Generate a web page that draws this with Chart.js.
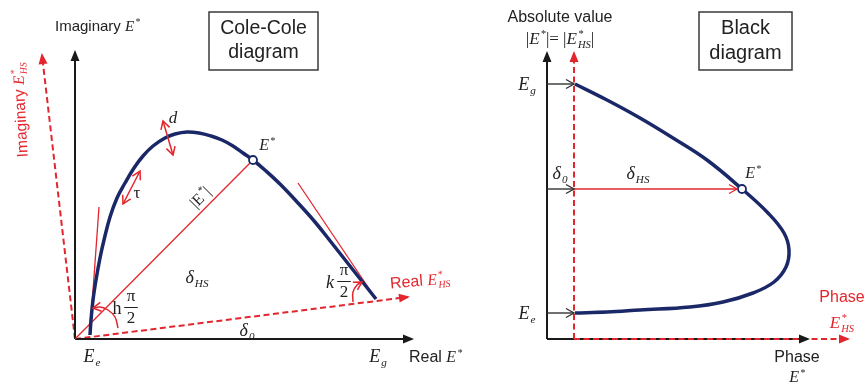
<!DOCTYPE html>
<html>
<head>
<meta charset="utf-8">
<script src="https://cdn.jsdelivr.net/npm/chart.js@4.4.0/dist/chart.umd.min.js"></script>
<style>
  html, body { margin: 0; padding: 0; background: #fff; width: 866px; height: 383px; overflow: hidden; }
  canvas { position: absolute; left: 0; top: 0; }
</style>
</head>
<body>
<canvas id="cole" width="866" height="383"></canvas>
<canvas id="black" width="866" height="383"></canvas>
<script>
// ---- Cole-Cole diagram (x = real part, y = imaginary part, arbitrary units, origin at the axes) ----
const coleCurve = [
  {x:15,y:4},{x:16,y:19},{x:18,y:39},{x:21,y:59},{x:25,y:81},{x:29,y:99},{x:35,y:122},
  {x:42,y:141},{x:50,y:156},{x:59,y:171},{x:68,y:183},{x:78,y:193},{x:90,y:201},{x:100,y:205},
  {x:112,y:207},{x:124,y:206},{x:136,y:203},{x:147,y:199},{x:158,y:193},{x:168,y:186},
  {x:178,y:179},{x:191,y:168},{x:206,y:154},{x:223,y:136},{x:240,y:117},{x:256,y:97},
  {x:271,y:78},{x:286,y:59},{x:301,y:40}
];
const coleEStar = [{x:178,y:179}];
const coleRealAxis = [{x:0,y:0},{x:337,y:0}];
const coleImagAxis = [{x:0,y:0},{x:0,y:287}];
const coleRealHS = [{x:0,y:0},{x:333,y:42}];
const coleImagHS = [{x:0,y:0},{x:-33,y:284}];
const coleModulus = [{x:0,y:0},{x:178,y:179}];
const coleTangentLow = [{x:15,y:6},{x:24,y:132}];
const coleTangentHigh = [{x:223,y:156},{x:301,y:40}];
const coleArcH = [{x:43,y:11},{x:40,y:22},{x:33,y:29},{x:25,y:32},{x:18,y:31}];
const coleArcK = [{x:278,y:37},{x:278,y:47},{x:282,y:54},{x:287,y:57}];
const coleArrowD = [{x:88,y:218},{x:98,y:184}];
const coleArrowTau = [{x:65,y:168},{x:48,y:135}];

// ---- Black diagram (x = phase, y = absolute value) ----
const blackCurve = [
  {x:28,y:255},{x:60,y:239},{x:93,y:221},{x:126,y:201},{x:160,y:179},{x:195,y:150},
  {x:221,y:126},{x:237,y:106},{x:242,y:89},{x:239,y:72},{x:227,y:57},{x:206,y:46},
  {x:176,y:37},{x:143,y:32},{x:93,y:29},{x:60,y:27},{x:28,y:26}
];
const blackEStar = [{x:195,y:150}];
const blackAbsAxis = [{x:0,y:0},{x:0,y:286}];
const blackPhaseAxis = [{x:0,y:0},{x:261,y:0}];
const blackAbsHS = [{x:27,y:0},{x:27,y:286}];
const blackPhaseHS = [{x:27,y:0},{x:301,y:0}];
const blackShiftEg = [{x:0,y:255},{x:27,y:255}];
const blackShiftD0 = [{x:0,y:150},{x:27,y:150}];
const blackShiftEe = [{x:0,y:26},{x:27,y:26}];
const blackDeltaHS = [{x:27,y:150},{x:190,y:150}];

const RED = '#e3262d';
const NAVY = '#1b2868';
const INK = '#1a1a1a';
const TEXT = '#222';

// text annotations
const coleNotes = [
  {x:-20, y:313, segs:[['Imaginary ','n'],['E','i'],['*','sup']], size:15, color:TEXT, align:'left'},
  {x:-55, y:229, segs:[['Imaginary ','n'],['E','i'],['*','HS','ss']], size:15.5, color:RED, rot:-93},
  {x:315, y:56, segs:[['Real ','n'],['E','i'],['*','HS','ss']], size:16, color:RED, align:'left', rot:-5},
  {x:334, y:-18, segs:[['Real ','n'],['E','i'],['*','sup']], size:16, color:TEXT, align:'left'},
  {x:17, y:-17, segs:[['E','i'],['e','sub']], size:18, color:TEXT},
  {x:303, y:-17, segs:[['E','i'],['g','sub']], size:18, color:TEXT},
  {x:122, y:62, segs:[['δ','i'],['HS','sub']], size:18, color:TEXT},
  {x:172, y:9, segs:[['δ','i'],['0','sub']], size:18, color:TEXT},
  {x:192, y:194, segs:[['E','i'],['*','sup']], size:16, color:TEXT},
  {x:98, y:222, segs:[['d','i']], size:17, color:TEXT},
  {x:62, y:147, segs:[['τ','r']], size:17, color:TEXT},
  {x:125, y:142, segs:[['|','r'],['E','r'],['*','sup'],['|','r']], size:16, color:TEXT, rot:-45},
  {x:42, y:31, segs:[['h','r']], size:18, color:TEXT},
  {x:56, y:32, frac:['π','2'], size:17, color:TEXT},
  {x:255, y:57, segs:[['k','i']], size:18, color:TEXT},
  {x:269, y:58, frac:['π','2'], size:17, color:TEXT},
  {box:[134,327,243,269], lines:['Cole-Cole','diagram'], size:19.5, color:TEXT}
];
const blackNotes = [
  {x:13, y:322, segs:[['Absolute value','n']], size:16, color:TEXT},
  {x:13, y:301, segs:[['|','r'],['E','i'],['*','sup'],['|= |','r'],['E','i'],['*','HS','ss'],['|','r']], size:17, color:TEXT},
  {x:-20, y:255, segs:[['E','i'],['g','sub']], size:18, color:TEXT},
  {x:-20, y:26, segs:[['E','i'],['e','sub']], size:18, color:TEXT},
  {x:13, y:166, segs:[['δ','i'],['0','sub']], size:18, color:TEXT},
  {x:91, y:166, segs:[['δ','i'],['HS','sub']], size:18, color:TEXT},
  {x:206, y:166, segs:[['E','i'],['*','sup']], size:16, color:TEXT},
  {x:295, y:42, segs:[['Phase','n']], size:16, color:RED},
  {x:295, y:17, segs:[['E','i'],['*','HS','ss']], size:17, color:RED},
  {x:250, y:-18, segs:[['Phase','n']], size:16, color:TEXT},
  {x:250, y:-38, segs:[['E','i'],['*','sup']], size:16, color:TEXT},
  {box:[152,327,245,269], lines:['Black','diagram'], size:20, color:TEXT}
];

function fontFor(kind, size) {
  if (kind === 'n') return size + 'px "Liberation Sans", Arial, sans-serif';
  if (kind === 'r') return size + 'px "Liberation Serif", serif';
  return 'italic ' + size + 'px "Liberation Serif", serif';
}

function drawRich(ctx, segs, size, color, align) {
  const small = size * 0.62;
  const widths = segs.map(s => {
    if (s[1] === 'sup' || s[1] === 'sub') { ctx.font = fontFor('i', small); return ctx.measureText(s[0]).width + 1; }
    if (s[2] === 'ss') {
      ctx.font = fontFor('i', small);
      return Math.max(ctx.measureText(s[0]).width, ctx.measureText(s[1]).width) + 1;
    }
    ctx.font = fontFor(s[1], size);
    return ctx.measureText(s[0]).width;
  });
  const total = widths.reduce((a, b) => a + b, 0);
  let x = align === 'left' ? 0 : -total / 2;
  const base = size * 0.34;
  ctx.fillStyle = color;
  ctx.textBaseline = 'alphabetic';
  ctx.textAlign = 'left';
  segs.forEach((s, i) => {
    if (s[1] === 'sup') { ctx.font = fontFor('i', small); ctx.fillText(s[0], x + 1, base - size * 0.42); }
    else if (s[1] === 'sub') { ctx.font = fontFor('i', small); ctx.fillText(s[0], x + 1, base + size * 0.22); }
    else if (s[2] === 'ss') {
      ctx.font = fontFor('i', small);
      ctx.fillText(s[0], x + 1, base - size * 0.42);
      ctx.fillText(s[1], x + 1, base + size * 0.22);
    } else { ctx.font = fontFor(s[1], size); ctx.fillText(s[0], x, base); }
    x += widths[i];
  });
}

const notesPlugin = {
  id: 'notes',
  afterDraw(chart, args, opts) {
    const ctx = chart.ctx, sx = chart.scales.x, sy = chart.scales.y;
    (opts.items || []).forEach(n => {
      ctx.save();
      if (n.box) {
        const x1 = sx.getPixelForValue(n.box[0]), y1 = sy.getPixelForValue(n.box[1]);
        const x2 = sx.getPixelForValue(n.box[2]), y2 = sy.getPixelForValue(n.box[3]);
        ctx.strokeStyle = '#3a3a3a'; ctx.lineWidth = 1.5;
        ctx.strokeRect(x1, y1, x2 - x1, y2 - y1);
        ctx.fillStyle = n.color; ctx.font = fontFor('n', n.size);
        ctx.textAlign = 'center'; ctx.textBaseline = 'middle';
        const cx = (x1 + x2) / 2, cy = (y1 + y2) / 2;
        ctx.fillText(n.lines[0], cx, cy - n.size * 0.62);
        ctx.fillText(n.lines[1], cx, cy + n.size * 0.62);
      } else if (n.frac) {
        const cx = sx.getPixelForValue(n.x), cy = sy.getPixelForValue(n.y);
        ctx.fillStyle = n.color; ctx.font = fontFor('r', n.size);
        ctx.textAlign = 'center'; ctx.textBaseline = 'middle';
        ctx.fillText(n.frac[0], cx, cy - n.size * 0.62);
        ctx.fillText(n.frac[1], cx, cy + n.size * 0.68);
        ctx.strokeStyle = n.color; ctx.lineWidth = 1;
        ctx.beginPath(); ctx.moveTo(cx - n.size * 0.4, cy + 0.5); ctx.lineTo(cx + n.size * 0.4, cy + 0.5); ctx.stroke();
      } else {
        ctx.translate(sx.getPixelForValue(n.x), sy.getPixelForValue(n.y));
        if (n.rot) ctx.rotate(n.rot * Math.PI / 180);
        drawRich(ctx, n.segs, n.size, n.color, n.align);
      }
      ctx.restore();
    });
  }
};

function head(ctx, x, y, ang, style, color, lw) {
  ctx.save();
  ctx.translate(x, y); ctx.rotate(ang);
  ctx.setLineDash([]);
  ctx.beginPath();
  if (style === 'fill') {
    ctx.moveTo(2, 0); ctx.lineTo(-9, -4.5); ctx.lineTo(-9, 4.5); ctx.closePath();
    ctx.fillStyle = color; ctx.fill();
  } else {
    ctx.moveTo(-8, -4.5); ctx.lineTo(0, 0); ctx.lineTo(-8, 4.5);
    ctx.strokeStyle = color; ctx.lineWidth = lw; ctx.lineJoin = 'miter'; ctx.stroke();
  }
  ctx.restore();
}

const arrowPlugin = {
  id: 'arrows',
  afterDatasetsDraw(chart) {
    const ctx = chart.ctx;
    chart.data.datasets.forEach((ds, i) => {
      if (!ds.arrow) return;
      const pts = chart.getDatasetMeta(i).data, n = pts.length;
      if (ds.arrow.end) {
        const p = pts[n - 1], q = pts[n - 2];
        head(ctx, p.x, p.y, Math.atan2(p.y - q.y, p.x - q.x), ds.arrow.end, ds.borderColor, ds.borderWidth);
      }
      if (ds.arrow.start) {
        const p = pts[0], q = pts[1];
        head(ctx, p.x, p.y, Math.atan2(p.y - q.y, p.x - q.x), ds.arrow.start, ds.borderColor, ds.borderWidth);
      }
    });
  }
};

function line(data, color, width, extra) {
  return Object.assign({ data, borderColor: color, borderWidth: width, showLine: true,
    pointRadius: 0, fill: false, clip: false, tension: 0 }, extra || {});
}

function makeChart(id, xmin, xmax, datasets, notes) {
  datasets.forEach((d, i) => { d.order = -i; });
  return new Chart(document.getElementById(id), {
    type: 'scatter',
    data: { datasets },
    options: {
      responsive: false,
      animation: false,
      layout: { padding: 0, autoPadding: false },
      events: [],
      plugins: { legend: { display: false }, tooltip: { enabled: false }, notes: { items: notes } },
      scales: {
        x: { type: 'linear', min: xmin, max: xmax, display: false },
        y: { type: 'linear', min: -44, max: 339, display: false }
      }
    },
    plugins: [arrowPlugin, notesPlugin]
  });
}

const dash = { borderDash: [6, 3.5] };
const marker = (data) => ({ data, showLine: false, pointRadius: 4, pointBorderWidth: 1.8,
  pointBackgroundColor: '#fff', pointBorderColor: NAVY, clip: false });

makeChart('cole', -75, 791, [
  line(coleImagHS, RED, 2, Object.assign({ arrow: { end: 'fill' } }, dash)),
  line(coleRealHS, RED, 2, Object.assign({ arrow: { end: 'fill' } }, dash)),
  line(coleRealAxis, INK, 2, { arrow: { end: 'fill' } }),
  line(coleImagAxis, INK, 2, { arrow: { end: 'fill' } }),
  line(coleModulus, RED, 1.3),
  line(coleTangentLow, RED, 1.3),
  line(coleTangentHigh, RED, 1.3),
  line(coleCurve, NAVY, 3.5, { tension: 0.4 }),
  line(coleArcH, RED, 1.5, { tension: 0.4, arrow: { end: 'open' } }),
  line(coleArcK, RED, 1.5, { tension: 0.4, arrow: { end: 'open' } }),
  line(coleArrowD, RED, 1.5, { arrow: { start: 'open', end: 'open' } }),
  line(coleArrowTau, RED, 1.5, { arrow: { start: 'open', end: 'open' } }),
  marker(coleEStar)
], coleNotes);

makeChart('black', -547, 319, [
  line(blackAbsAxis, INK, 2, { arrow: { end: 'fill' } }),
  line(blackPhaseAxis, INK, 2, { arrow: { end: 'fill' } }),
  line(blackAbsHS, RED, 2, Object.assign({ arrow: { end: 'fill' } }, dash)),
  line(blackPhaseHS, RED, 2, Object.assign({ arrow: { end: 'fill' } }, dash)),
  line(blackShiftEg, '#333', 1.4, { arrow: { end: 'open' } }),
  line(blackShiftD0, '#333', 1.4, { arrow: { end: 'open' } }),
  line(blackShiftEe, '#333', 1.4, { arrow: { end: 'open' } }),
  line(blackDeltaHS, RED, 1.3, { arrow: { end: 'open' } }),
  line(blackCurve, NAVY, 3.5, { tension: 0.4 }),
  marker(blackEStar)
], blackNotes);
</script>
</body>
</html>
